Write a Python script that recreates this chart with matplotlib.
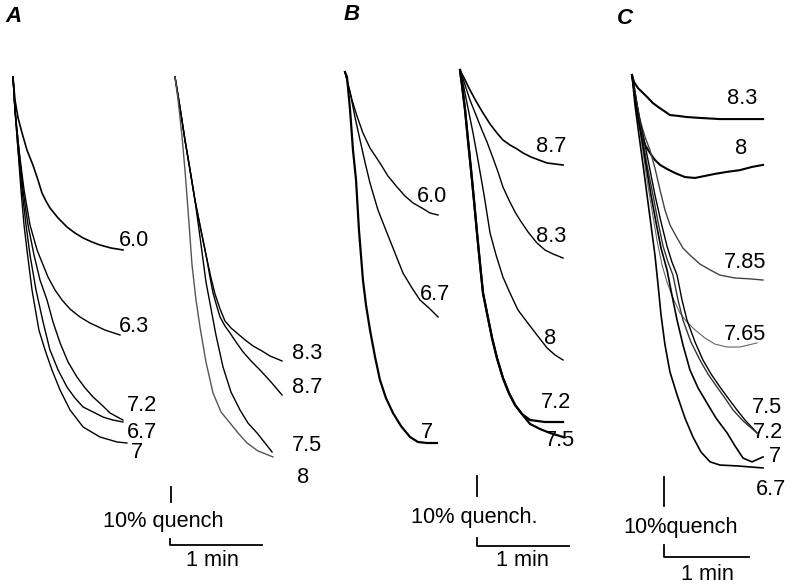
import matplotlib
matplotlib.use('Agg')
import matplotlib.pyplot as plt

plt.rcParams['font.family'] = ['Liberation Sans', 'DejaVu Sans']

W, H = 797, 586
FS = 15.7

# --- traces: time (s) and quench (%) ---
# panel A, left set
a1_labels = ['6.0', '6.3', '7.2', '6.7', '7']
a1_t = [[0, 1.3, 3.3, 5.9, 9.1, 13, 16.3, 18.9, 21.5, 24.1, 29.4, 35.2, 40.4, 45.7, 51.5, 56.7, 63.9, 71.7],
        [0, 1.3, 3.9, 7.2, 11.1, 15.7, 19.6, 22.8, 27.4, 32, 37.2, 43.7, 50.2, 60, 69.8],
        [0, 1.3, 3.9, 6.5, 9.8, 13.7, 17.6, 22.2, 26.1, 30.7, 35.9, 41.7, 47, 52.2, 58, 63.3, 71.7],
        [0, 1.3, 3.3, 5.9, 8.5, 11.1, 15, 19.6, 24.1, 29.4, 35.2, 40.4, 45.7, 52.2, 58.7, 65.2, 71.7],
        [0, 1.3, 3.3, 5.2, 7.2, 9.1, 12.4, 16.9, 20.9, 25.4, 30.7, 37.2, 45.7, 56.7, 67.8, 74.3]]
a1_q = [[0, 15.3, 27.3, 37.3, 48.7, 58.7, 68.7, 77.3, 82.7, 87.3, 94, 100, 104, 107.3, 110, 112, 114, 115.3],
        [0, 22, 48.7, 75.3, 98.7, 115.3, 125.3, 133.3, 142, 148.7, 154.7, 160, 164, 168.7, 172],
        [0, 22, 48.7, 75.3, 98.7, 118.7, 135.3, 148.7, 163.3, 177.3, 190, 200, 207.3, 213.3, 218.7, 224, 228.7],
        [0, 22, 48.7, 75.3, 98.7, 118.7, 142, 163.3, 182, 195.3, 206.7, 214, 220, 223.3, 226.7, 228.7, 230],
        [0, 22, 48.7, 75.3, 98.7, 115.3, 142, 168.7, 182, 195.3, 208.7, 222, 233.3, 240, 243.3, 244]]

# panel A, right set
a2_labels = ['8.3', '8.7', '7.5', '8']
a2_t = [[0, 3.3, 6.5, 9.8, 13, 16.9, 20.9, 23.5, 26.1, 29.4, 32.6, 36.5, 40.4, 45.7, 50.9, 56.8, 62, 69.8],
        [0, 3.3, 6.5, 9.8, 13, 16.9, 20.9, 22.8, 24.8, 27.4, 29.4, 32.6, 35.9, 39.8, 44.4, 49.6, 55.4, 62.6, 69.8],
        [0, 3.3, 6.5, 9.8, 13, 15.7, 18.3, 20.2, 22.8, 26.7, 31.3, 36.5, 42.4, 47.6, 53.5, 58.7, 63.3],
        [0, 2, 4.6, 6.5, 8.5, 11.1, 13.7, 16.3, 20.2, 24.8, 30, 35.9, 41.1, 47, 54.1, 63.9]]
a2_q = [[0, 20.7, 42, 62, 82, 102, 122, 134, 144.7, 154.7, 162.7, 167.3, 170.7, 175.3, 179.3, 182.7, 186, 189.3],
        [0, 20.7, 42, 62, 82, 102, 122, 133.3, 144, 153.3, 160, 166, 170.7, 176.7, 183.3, 189.3, 195.3, 203.3, 212],
        [0, 20.7, 42, 62, 82, 102, 122, 136.7, 150.7, 172, 193.3, 210, 222, 230.7, 237.3, 244, 250],
        [0, 15.3, 40, 62, 88.7, 125.3, 148.7, 166.7, 190, 210.7, 223.3, 230.7, 237.3, 244, 249.3, 253.3]]

# panel B, left set
b1_labels = ['6.0', '6.7', '7']
b1_t = [[0, 2, 4.6, 7.8, 11.7, 16.3, 22.8, 28, 33.9, 39.1, 44.4, 50.2, 55.4, 60.7],
        [0, 3.3, 6.5, 9.8, 13, 16.3, 21.5, 27.4, 32.6, 37.8, 43.7, 48.9, 54.8, 60.7],
        [0, 1.3, 3.3, 5.2, 7.2, 9.1, 11.7, 13.7, 16.3, 19.6, 22.8, 26.7, 31.3, 36.5, 42.4, 47.6, 53.5, 60]]
b1_q = [[0, 6.5, 14, 22, 30.5, 38, 45.5, 52, 57.5, 62, 65.5, 68, 70.5, 71.5],
        [0, 10, 22.5, 34, 45, 55.5, 69, 80.5, 90.5, 100.5, 108, 114, 118, 122.5],
        [0, 2.5, 19, 39, 54, 79, 104, 116.5, 129, 142.5, 154, 163, 170.5, 177, 182.5, 185, 185.5, 185.5]]

# panel B, right set
b2_labels = ['8.7', '8.3', '8', '7.2', '7.5']
b2_t = [[0, 3.3, 6.5, 10.4, 15, 19.6, 24.1, 28, 32.6, 37.2, 41.1, 46.3, 51.5, 56.8, 62, 67.2],
        [0, 3.3, 6.5, 10.4, 14.3, 17.6, 21.5, 24.8, 28, 31.9, 35.9, 39.1, 44.4, 50.2, 55.4, 60.7, 67.2],
        [0, 2.6, 5.2, 8.5, 11.7, 15.7, 19.6, 23.5, 28, 32.6, 37.8, 43.7, 50.2, 56.8, 62, 67.2],
        [0, 1.3, 3.3, 5.2, 7.2, 9.1, 11.1, 13, 15, 17.6, 20.9, 24.1, 28, 31.9, 35.9, 40.4, 45.7, 55.4, 67.2],
        [0, 1.3, 3.3, 5.2, 7.2, 9.1, 11.1, 13, 15, 17.6, 20.9, 24.1, 28, 31.9, 35.9, 40.4, 45.7, 52.2, 58.7, 67.2]]
b2_q = [[0, 5, 10, 15.5, 21.5, 27, 31.5, 35, 37.5, 39.5, 41.5, 43.5, 45, 46.5, 47, 47.5],
        [0, 7.5, 15, 22.5, 30, 36, 44, 51, 58.5, 65, 71, 75, 81, 86.5, 90, 92, 94],
        [0, 9, 19, 31.5, 45, 62.5, 81.5, 92.5, 103.5, 111.5, 120, 126, 132.5, 139, 142.5, 145],
        [0, 7.5, 20, 35, 50, 65, 81.5, 96.5, 111.5, 121.5, 134, 144, 154, 161.5, 167.5, 172, 175, 176, 176],
        [0, 7.5, 20, 35, 50, 65, 81.5, 96.5, 111.5, 121.5, 134, 144, 154, 161.5, 167.5, 172, 177, 179.5, 181.5, 183.5]]

# panel C
c_labels = ['8.3', '8', '7.85', '7.65', '7.5', '7.2', '7', '6.7']
c_t = [[0, 1.4, 4.2, 7.8, 11.3, 14.8, 18.4, 22.6, 26.8, 32.5, 38.8, 48, 62.1, 76.2, 92.5],
       [0, 2.8, 5.6, 9.2, 12.7, 16.2, 19.8, 24.7, 30.4, 37.4, 44.5, 51.5, 58.6, 67.1, 76.2, 84.7, 92.5],
       [0, 2.8, 5.6, 9.2, 12.7, 16.2, 19.8, 23.3, 26.8, 31.8, 36, 40.9, 48, 55.1, 62.1, 72.7, 83.3, 92.5],
       [0, 3.5, 7.1, 10.6, 14.1, 17.6, 21.2, 24.7, 28.9, 33.9, 38.8, 44.5, 51.5, 58.6, 67.1, 76.2, 88.2],
       [0, 3.5, 7.8, 12, 16.2, 20.5, 24.7, 28.2, 31.8, 35.3, 38.8, 44.5, 50.1, 55.8, 62.1, 67.8, 74.1, 79.8, 88.2],
       [0, 3.5, 7.1, 10.6, 14.8, 18.4, 21.9, 25.4, 28.9, 32.5, 36, 41.6, 48, 53.6, 60, 65.6, 71.3, 78.4, 88.2],
       [0, 2.8, 6.4, 9.9, 13.4, 16.9, 20.5, 24.7, 28.2, 31.8, 36, 40.9, 46.6, 52.9, 59.3, 67.1, 72.7, 78.4, 84.7, 92.5],
       [0, 2.1, 4.9, 7.8, 10.6, 13.4, 16.2, 18.4, 20.5, 23.3, 26.8, 31.8, 37.4, 43, 48.7, 55.1, 62.1, 74.1, 92.5]]
c_q = [[0, 2.4, 4.5, 6.2, 7.9, 9.7, 11, 12.4, 13.8, 14.1, 14.5, 14.8, 15.2, 15.2, 15.2],
       [0, 8.6, 17.9, 24.1, 26.9, 29.3, 31, 32.4, 33.8, 35.2, 35.5, 34.8, 34.1, 33.4, 32.8, 31.7, 31],
       [0, 7.9, 15.5, 21.4, 25.9, 32.1, 39.7, 46.6, 51.7, 56.2, 59.7, 62.1, 65.2, 67.2, 69, 70, 70.3, 70.7],
       [0, 12.1, 24.1, 36.2, 46.6, 56.9, 65.5, 71.4, 76.9, 82.1, 85.2, 87.9, 90.7, 92.8, 93.8, 93.8, 92.4],
       [0, 10.3, 20.7, 31, 41.4, 50.7, 59, 64.5, 69, 77.6, 84.5, 92.1, 98.3, 103.1, 107.6, 111.4, 115.5, 119, 123.4],
       [0, 10.3, 20.7, 31, 41.4, 50.7, 59, 64.5, 69, 77.6, 84.5, 92.1, 98.3, 103.1, 107.6, 111.4, 115.5, 119.3, 123.4],
       [0, 10.3, 20.7, 31, 41.4, 50.7, 59.7, 67.2, 75.9, 84.5, 93.1, 101.7, 107.9, 113.1, 118.3, 123.4, 127.9, 132.1, 133.4, 131.7],
       [0, 10.3, 20.7, 31, 41.4, 51.7, 62.1, 72.4, 82.8, 93.1, 102.4, 110.3, 118.3, 124.8, 130, 133.4, 134.5, 134.8, 135.5]]

# --- layout (pixels) ---
fig = plt.figure(figsize=(W / 100, H / 100), dpi=100)


def group_axes(ox, oy, sx, sy):
    # axes spanning the figure; trace origin sits at pixel (ox, oy)
    ax = fig.add_axes([0, 0, 1, 1])
    ax.set_xlim(-ox / sx, (W - ox) / sx)
    ax.set_ylim((H - oy) / sy, -oy / sy)
    ax.axis('off')
    ax.patch.set_alpha(0)
    return ax


def draw_set(ax, ts, qs, labels, offsets, colors, widths):
    for t, q, lab, off, c, lw in zip(ts, qs, labels, offsets, colors, widths):
        ax.plot(t, q, color=c, lw=lw, solid_joinstyle='round')
        ax.annotate(lab, (t[-1], q[-1]), xytext=off, textcoords='offset pixels',
                    ha='center', va='center', fontsize=FS)


def scale_bar(ax, ox, oy, sx, sy, vx, vy, lx, ly, txt, txt_xy, min_xy):
    # 10 % vertical bar, then the L-shaped 1 min bar
    x = (vx - ox) / sx
    y = (vy - oy) / sy
    ax.plot([x, x], [y, y + 10], color='black', lw=1.3)
    x = (lx - ox) / sx
    y = (ly - oy) / sy
    ax.plot([x, x, x + 60], [y - 4, y, y], color='black', lw=1.3)
    fig.text(txt_xy[0] / W, 1 - txt_xy[1] / H, txt, ha='center', va='center', fontsize=FS)
    fig.text(min_xy[0] / W, 1 - min_xy[1] / H, '1 min', ha='center', va='center', fontsize=FS)


# panel A
sxA, syA = 92 / 60, 1.5
ax = group_axes(13, 77, sxA, syA)
draw_set(ax, a1_t, a1_q, a1_labels,
         [(11, 9), (14, 9), (19, 15), (19, -10), (10, -9)],
         ['black'] * 5, [1.2, 1.0, 1.0, 1.0, 1.0])
scale_bar(ax, 13, 77, sxA, syA, 171, 487, 170, 545, '10% quench', (163, 521), (212, 560))
ax = group_axes(175, 77, sxA, syA)
draw_set(ax, a2_t, a2_q, a2_labels,
         [(25, 7), (25, 8), (35, 7), (30, -21)],
         ['black', 'black', 'black', '#555555'], [1.0, 1.0, 1.0, 1.0])

# panel B
sxB, syB = 92 / 60, 2.0
ax = group_axes(345, 72, sxB, syB)
draw_set(ax, b1_t, b1_q, b1_labels,
         [(-6, 19), (-3, 22), (-10, 11)],
         ['black'] * 3, [1.0, 1.0, 1.6])
scale_bar(ax, 345, 72, sxB, syB, 477, 476, 477, 546, '10% quench.', (474, 518), (522, 560))
ax = group_axes(460, 70, sxB, syB)
draw_set(ax, b2_t, b2_q, b2_labels,
         [(-12, 19), (-12, 21), (-13, 22), (-7, 19), (-3, -4)],
         ['black'] * 5, [1.2, 1.0, 1.0, 1.6, 1.6])

# panel C
sxC, syC = 85 / 60, 2.9
ax = group_axes(632, 75, sxC, syC)
draw_set(ax, c_t, c_q, c_labels,
         [(-21, 21), (-22, 16), (-18, 18), (-12, 8), (10, 25), (11, 0), (12, 0), (8, -22)],
         ['black', 'black', '#444444', '#666666', 'black', '#333333', 'black', 'black'],
         [1.5, 1.5, 1.0, 0.8, 1.0, 1.0, 1.2, 1.2])
scale_bar(ax, 632, 75, sxC, syC, 664, 477, 664, 557, '10%quench', (681, 527), (707, 575))

# panel letters
for letter, (px, py) in zip('ABC', [(14, 17), (352, 15), (625, 19)]):
    fig.text(px / W, 1 - py / H, letter, ha='center', va='center',
             fontsize=16, fontweight='bold', fontstyle='italic')

plt.savefig('out.png', dpi=100)
plt.close()
